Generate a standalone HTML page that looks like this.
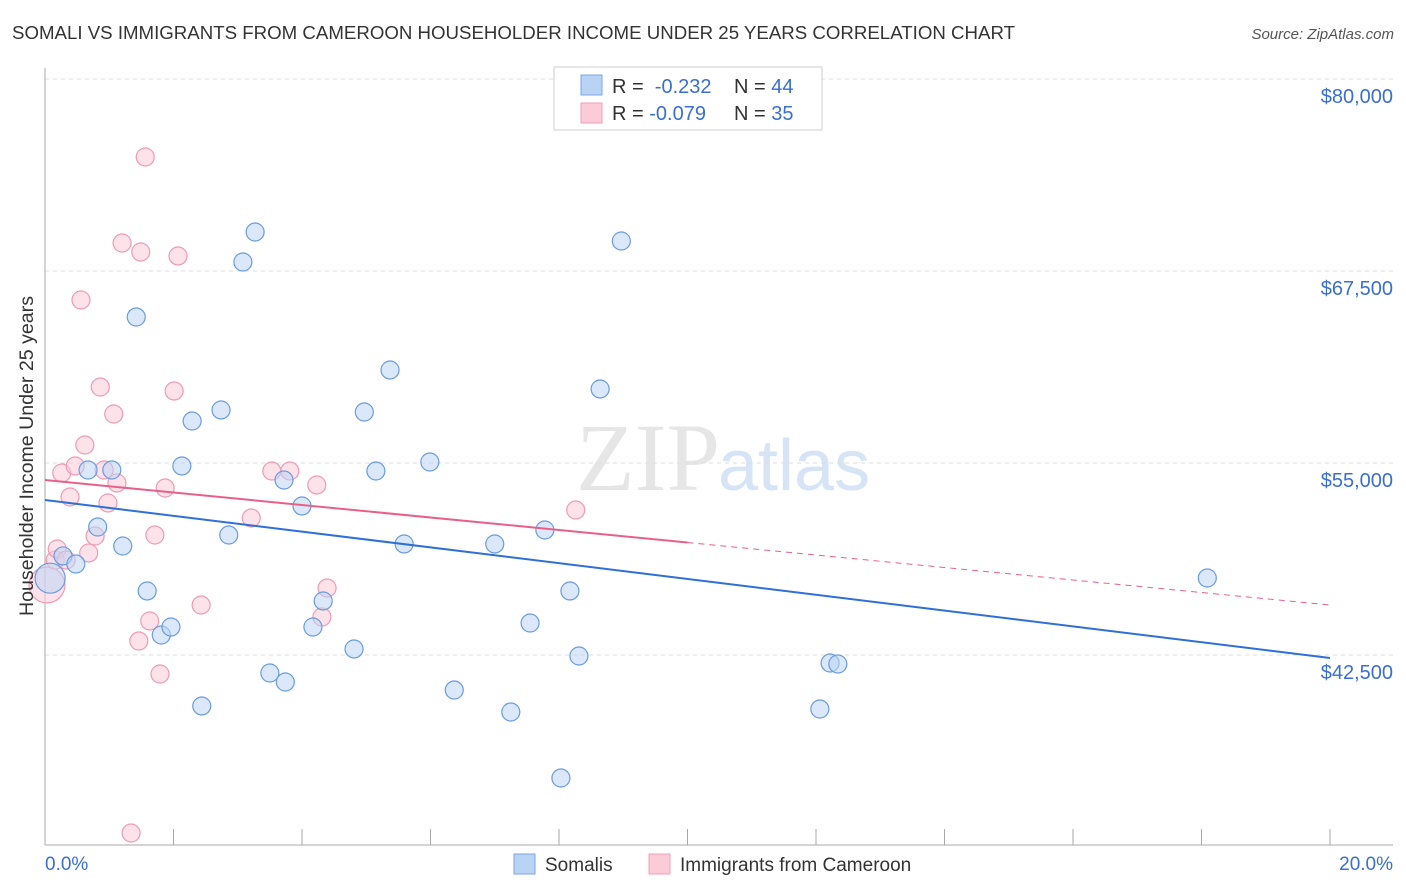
<!DOCTYPE html>
<html><head><meta charset="utf-8"><style>
body{margin:0;background:#fff;font-family:"Liberation Sans",sans-serif;}
#wrap{position:relative;width:1406px;height:892px;overflow:hidden;}
</style></head><body>
<div id="wrap">
<svg id="svg" width="1406" height="892">
<text x="12" y="39" font-size="18" fill="#333" textLength="1003" lengthAdjust="spacingAndGlyphs">SOMALI VS IMMIGRANTS FROM CAMEROON HOUSEHOLDER INCOME UNDER 25 YEARS CORRELATION CHART</text>
<text x="1394" y="39" font-size="15" fill="#555" font-style="italic" text-anchor="end">Source: ZipAtlas.com</text>
<text x="720" y="490" font-size="96" fill="#e6e6e6" text-anchor="end" font-family="Liberation Serif,serif">ZIP</text>
<text x="718" y="490" font-size="72" fill="#d6e4f5">atlas</text>
<g id="grid"></g>
<g id="axes"></g>
<g id="pts"></g>
<g id="trend"></g>
<text x="33" y="456" font-size="19" fill="#333" text-anchor="middle" textLength="320" lengthAdjust="spacingAndGlyphs" transform="rotate(-90 33 456)">Householder Income Under 25 years</text>
<g>
<rect x="554" y="67" width="268" height="63" fill="#fff" stroke="#ccc"/>
<rect x="581" y="75" width="21" height="20" fill="#b9d3f5" stroke="#7aa6e6"/>
<rect x="581" y="103" width="21" height="20" fill="#fbcbd8" stroke="#f0a0b8"/>
<text x="612" y="93" font-size="20" fill="#333">R = <tspan fill="#3a6fd0">&#160;-0.232</tspan></text>
<text x="734" y="93" font-size="20" fill="#333">N = <tspan fill="#3a6fd0">44</tspan></text>
<text x="612" y="120" font-size="20" fill="#333">R = <tspan fill="#3a6fd0">-0.079</tspan></text>
<text x="734" y="120" font-size="20" fill="#333">N = <tspan fill="#3a6fd0">35</tspan></text>
</g>
<g>
<rect x="514" y="854" width="21" height="20" fill="#b9d3f5" stroke="#7aa6e6"/>
<text x="545" y="871" font-size="19" fill="#333">Somalis</text>
<rect x="649" y="854" width="21" height="20" fill="#fbcbd8" stroke="#f0a0b8"/>
<text x="680" y="871" font-size="19" fill="#333">Immigrants from Cameroon</text>
</g>
<text x="45" y="870" font-size="19" fill="#3a6fd0">0.0%</text>
<text x="1393" y="870" font-size="19" fill="#3a6fd0" text-anchor="end">20.0%</text>
</svg>
</div>
<script>
const yTicks=[80000,67500,55000,42500];
const yTickLabels=["$80,000","$67,500","$55,000","$42,500"];
const xTicks=[0,2,4,6,8,10,12,14,16,18,20];
const blueX=[0.08,0.28,0.48,0.67,1.04,0.82,1.21,1.42,1.59,1.81,1.96,2.13,2.29,2.44,2.74,2.86,3.08,3.27,3.50,3.74,3.72,4.00,4.33,4.17,4.81,4.97,5.15,5.37,5.59,5.99,6.37,7.00,7.25,7.55,7.78,8.03,8.17,8.31,8.64,8.97,12.06,12.22,12.34,18.09];
const blueY=[47500,48950,48424,54544,54544,50833,49596,64505,46667,43802,44323,54805,57734,39180,58451,50312,68086,70039,41328,40742,53893,52201,46016,44323,42891,58320,54479,61055,49727,55065,40221,49727,38789,44583,50638,34492,46667,42435,59818,69453,38984,41979,41914,47513];
const pinkX=[0.03,0.16,0.19,0.26,0.39,0.47,0.56,0.62,0.68,0.78,0.86,0.92,0.98,1.07,1.12,1.20,1.46,1.49,1.56,1.63,1.71,1.79,1.87,2.01,2.07,2.43,3.21,3.53,3.81,4.23,4.31,4.39,8.26,1.34,0.33];
const pinkY=[47057,48685,49401,54349,52786,54805,65612,56172,49141,50247,59948,54544,52396,58190,53698,69323,43411,68737,74922,44714,50312,41263,53372,59688,68477,45755,51419,54479,54479,53568,44974,46862,51940,30911,48685];
const blueTrend=[52591,42305];
const pinkTrend=[53893,45755];
const NS="http://www.w3.org/2000/svg";
const X=v=>45+v/20*1285;
const Y=v=>79+(80000-v)/12500*192;
function mk(t,a,p){const e=document.createElementNS(NS,t);for(const k in a)e.setAttribute(k,a[k]);p.appendChild(e);return e;}
const grid=document.getElementById('grid'),axes=document.getElementById('axes'),pts=document.getElementById('pts'),tr=document.getElementById('trend');
yTicks.forEach((v,i)=>{
const l=mk('line',{x1:45,x2:1393,y1:Y(v),y2:Y(v),stroke:'#ddd','stroke-dasharray':'4,4'},grid);


const t=mk('text',{x:1393,y:Y(v)+24,'font-size':20,fill:'#3a6fd0','text-anchor':'end'},grid);
t.textContent=yTickLabels[i];


});
const ax=mk('line',{x1:45,x2:45,y1:68,y2:845,stroke:'#aaa'},axes);


const bx=mk('line',{x1:45,x2:1393,y1:845,y2:845,stroke:'#aaa'},axes);


xTicks.forEach(v=>{
const t=mk('line',{x1:X(v),x2:X(v),y1:829,y2:845,stroke:'#aaa'},axes);


});
function dots(xs,ys,fill,stroke,name){
xs.forEach((x,i)=>{
const big=(i===0);
const c=mk('circle',{cx:X(x),cy:Y(ys[i]),r:big?(name==='pink-point'?18:15):9,fill:fill,'fill-opacity':0.55,stroke:stroke,'stroke-width':1.2},pts);


});}
dots(pinkX,pinkY,'#fbcbd8','#ee9bb4','pink-point');
dots(blueX,blueY,'#bcd5f4','#6a9be0','blue-point');
const b=mk('line',{x1:X(0),y1:Y(blueTrend[0]),x2:X(20),y2:Y(blueTrend[1]),stroke:'#2f6fd6','stroke-width':2},tr);


const pm=pinkTrend[0]+(pinkTrend[1]-pinkTrend[0])*0.5;
const p1=mk('line',{x1:X(0),y1:Y(pinkTrend[0]),x2:X(10),y2:Y(pm),stroke:'#e8608a','stroke-width':2},tr);


const p2=mk('line',{x1:X(10),y1:Y(pm),x2:X(20),y2:Y(pinkTrend[1]),stroke:'#e8608a','stroke-width':1,'stroke-dasharray':'6,5'},tr);


</script>
</body></html>
